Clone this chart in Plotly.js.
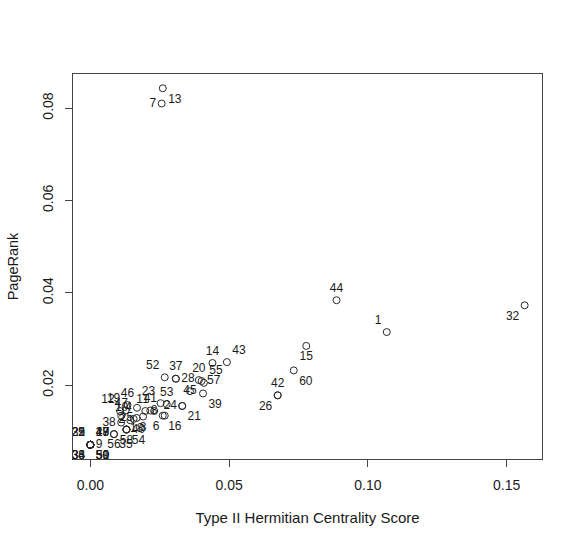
<!DOCTYPE html>
<html>
<head>
<meta charset="utf-8">
<script src="https://cdn.plot.ly/plotly-3.0.1.min.js"></script>
<style>html,body{margin:0;padding:0;background:#fff}</style>
</head>
<body>
<div id="chart" style="width:580px;height:551px"></div>
<script>
// Node labels (1..60)
const nodeIds = [
  1,2,3,4,5,6,7,8,9,10,11,12,13,14,15,16,17,18,19,20,
  21,22,23,24,25,26,27,28,29,30,31,32,33,34,35,36,37,38,39,40,
  41,42,43,44,45,46,47,48,49,50,51,52,53,54,55,56,57,58,59,60
];
// Type II Hermitian centrality score (x)
const hermitianScore = [
  0.1068,0.0144,0.0190,0.0168,0.0000,0.0268,0.0257,0.0198,0.0000,0.0156,
  0.0230,0.0107,0.0261,0.0440,0.0778,0.0261,0.0000,0.0167,0.0127,0.0391,
  0.0331,0.0000,0.0253,0.0331,0.0130,0.0675,0.0000,0.0308,0.0000,0.0000,
  0.0000,0.1565,0.0000,0.0000,0.0085,0.0000,0.0308,0.0111,0.0406,0.0130,
  0.0216,0.0675,0.0492,0.0887,0.0359,0.0134,0.0111,0.0000,0.0000,0.0000,
  0.0000,0.0268,0.0275,0.0130,0.0409,0.0085,0.0401,0.0130,0.0000,0.0733
];
// PageRank (y)
const pageRank = [
  0.0315,0.0124,0.0132,0.0151,0.0071,0.0134,0.0810,0.0144,0.0071,0.0127,
  0.0144,0.0144,0.0843,0.0248,0.0285,0.0134,0.0071,0.0129,0.0145,0.0211,
  0.0155,0.0071,0.0161,0.0155,0.0104,0.0178,0.0071,0.0214,0.0071,0.0071,
  0.0071,0.0373,0.0071,0.0071,0.0094,0.0071,0.0214,0.0119,0.0182,0.0104,
  0.0145,0.0178,0.0250,0.0384,0.0187,0.0157,0.0134,0.0071,0.0071,0.0071,
  0.0071,0.0217,0.0159,0.0104,0.0205,0.0094,0.0209,0.0104,0.0071,0.0232
];
// Side of each point on which its label is drawn
const labelSide = [
  'top left','middle left','bottom center','middle left','top left','bottom left','middle left','middle right','middle right','top left',
  'top left','top left','bottom right','top center','bottom center','bottom right','top right','bottom center','top left','top center',
  'bottom right','top left','top left','middle left','top center','bottom left','top right','middle right','top left','bottom right',
  'top left','bottom left','bottom left','bottom left','bottom right','bottom left','top center','middle left','bottom right','middle right',
  'top center','top center','top right','top center','middle center','top center','top center','top right','top right','bottom right',
  'bottom right','top left','top center','bottom right','top right','bottom center','middle right','bottom center','bottom right','bottom right'
];
const xTicks = [0, 0.05, 0.10, 0.15];
const xTickText = ['0.00','0.05','0.10','0.15'];
const yTicks = [0.02, 0.04, 0.06, 0.08];
const yTickText = ['0.02','0.04','0.06','0.08'];

function rRange(v){
  const lo = Math.min(...v), hi = Math.max(...v), s = hi - lo;
  return [lo - 0.04*s, hi + 0.04*s];
}

const FONT = 'Liberation Sans, Arial, Helvetica, sans-serif';
const ink = '#1a1a1a';

const trace = {
  type:'scatter',
  mode:'markers+text',
  x: hermitianScore,
  y: pageRank,
  text: nodeIds.map(String),
  textposition: labelSide,
  textfont:{family:FONT, size:12, color:ink},
  marker:{symbol:'circle-open', size:7, color:'#2a2a2a', line:{width:1, color:'#2a2a2a'}},
  hoverinfo:'skip',
  cliponaxis:false
};

const axisCommon = {
  showgrid:false, zeroline:false,
  showline:true, mirror:true, linecolor:'#444', linewidth:1,
  ticks:'outside', ticklen:7, tickwidth:1, tickcolor:'#444',
  tickfont:{family:FONT, size:14, color:ink}
};

const layout = {
  width:580, height:551,
  margin:{l:73, r:38, t:74, b:92, pad:0},
  paper_bgcolor:'#ffffff', plot_bgcolor:'#ffffff',
  showlegend:false,
  font:{family:FONT, size:14, color:ink},
  xaxis:Object.assign({}, axisCommon, {
    range: rRange(hermitianScore),
    tickmode:'array', tickvals:xTicks, ticktext:xTickText,
    ticklabelstandoff: 6,
    title:{text:'Type II Hermitian Centrality Score', font:{family:FONT, size:15, color:ink}, standoff:20}
  }),
  yaxis:Object.assign({}, axisCommon, {
    range: rRange(pageRank),
    tickmode:'array', tickvals:yTicks, ticktext:yTickText,
    tickangle:-90,
    ticklabelstandoff: 6,
    title:{text:'PageRank', font:{family:FONT, size:14.5, color:ink}, standoff:18}
  })
};

Plotly.newPlot('chart', [trace], layout, {displayModeBar:false, staticPlot:true});
</script>
</body>
</html>
